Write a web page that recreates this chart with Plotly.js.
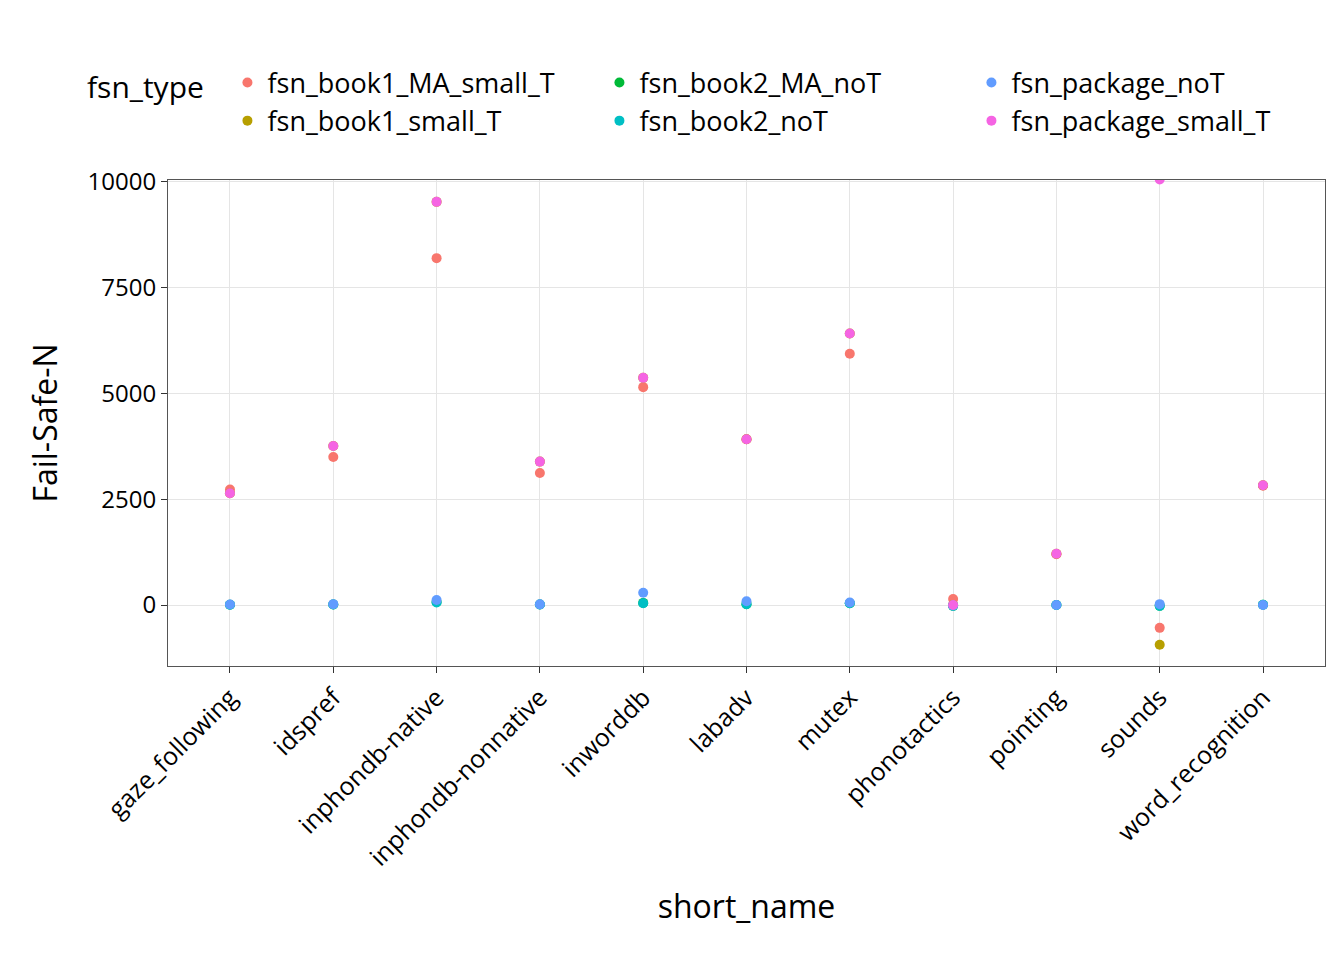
<!DOCTYPE html>
<html><head><meta charset="utf-8">
<script src="https://cdn.plot.ly/plotly-3.0.1.min.js"></script>
<style>body{margin:0}</style></head>
<body><div id="chart" style="width:1344px;height:960px"></div>
<script>
var names = ['gaze_following','idspref','inphondb-native','inphondb-nonnative','inworddb','labadv','mutex','phonotactics','pointing','sounds','word_recognition'];

var book1_MA_small_T = [2730, 3500, 8200, 3120, 5150, 3920, 5940, 140, 1200, -540, 2820];
var book1_small_T    = [2640, 3760, 9530, 3390, 5370, 3920, 6420, 0, 1210, -940, 2830];
var book2_MA_noT     = [5, 10, 70, 10, 50, 20, 40, -20, 0, -20, 5];
var book2_noT        = [5, 10, 60, 10, 40, 20, 40, -20, 0, -20, 5];
var package_noT      = [10, 20, 120, 15, 290, 90, 60, -10, 0, 20, 0];
var package_small_T  = [2640, 3760, 9530, 3390, 5370, 3920, 6420, 0, 1210, 10060, 2830];
var yTicks = [0, 2500, 5000, 7500, 10000];

var series = [
  ['fsn_book1_MA_small_T', book1_MA_small_T, '#F8766D', 1],
  ['fsn_book1_small_T', book1_small_T, '#B79F00', 4],
  ['fsn_book2_MA_noT', book2_MA_noT, '#00BA38', 2],
  ['fsn_book2_noT', book2_noT, '#00BFC4', 5],
  ['fsn_package_noT', package_noT, '#619CFF', 3],
  ['fsn_package_small_T', package_small_T, '#F564E3', 6]
];

var traces = series.map(function (s) {
  return {x: names, y: s[1], name: s[0], type: 'scatter', mode: 'markers',
          marker: {color: s[2], size: 10}, legendrank: s[3]};
});

var font = {family: 'Open Sans, DejaVu Sans, sans-serif', color: '#000'};
Plotly.newPlot('chart', traces, {
  width: 1344, height: 960,
  margin: {l: 168, r: 19, t: 180, b: 294},
  paper_bgcolor: '#fff', plot_bgcolor: '#fff',
  font: font,
  showlegend: true,
  legend: {orientation: 'h', x: -0.02, y: 1.25, xanchor: 'left', yanchor: 'top',
           entrywidth: 327, traceorder: 'normal', tracegroupgap: 0,
           font: {size: 27, family: font.family, color: '#000'},
           title: {text: 'fsn_type  ', side: 'left', font: {size: 30, family: font.family}}},
  xaxis: {type: 'category', range: [-0.6, 10.6], tickangle: -45,
          showgrid: true, gridcolor: '#e5e5e5', zeroline: false,
          showline: true, linecolor: '#555', mirror: true,
          ticks: 'outside', ticklen: 6, tickcolor: '#333',
          tickfont: {size: 25, color: '#000'},
          title: {text: 'short_name', font: {size: 32}, standoff: 24}},
  yaxis: {range: [-1442, 10047], tickvals: yTicks, ticktext: yTicks.map(String),
          showgrid: true, gridcolor: '#e5e5e5', zeroline: false,
          showline: true, linecolor: '#555', mirror: true,
          ticks: 'outside', ticklen: 6, tickcolor: '#333',
          tickfont: {size: 24, color: '#000'},
          title: {text: 'Fail-Safe-N', font: {size: 32}, standoff: 20}}
}, {staticPlot: true});
</script></body></html>
